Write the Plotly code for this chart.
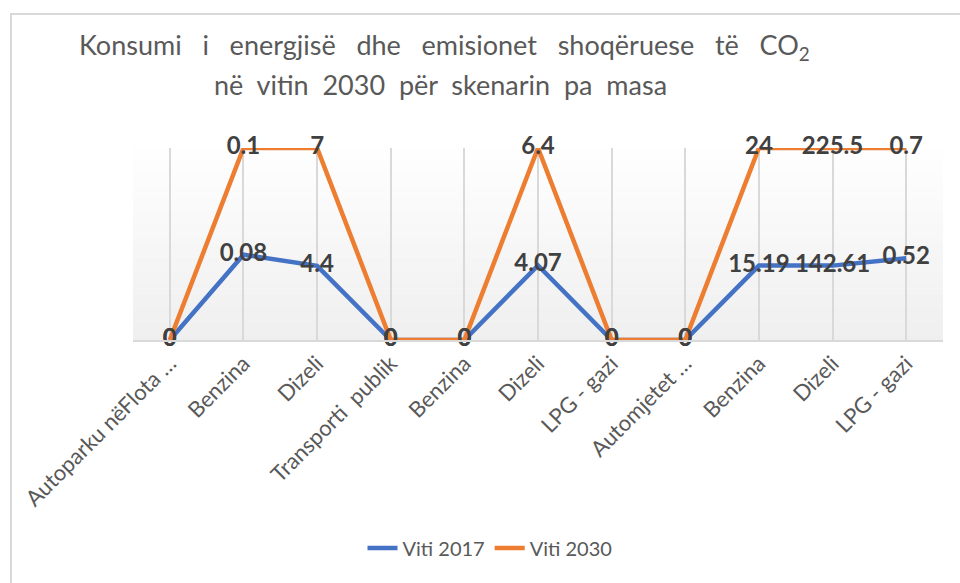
import numpy as np
import plotly.graph_objects as go

# ---- data ----
categories = ["Autoparku nëFlota …", "Benzina", "Dizeli", "Transporti  publik", "Benzina",
              "Dizeli", "LPG - gazi", "Automjetet …", "Benzina", "Dizeli", "LPG - gazi"]
viti_2017 = [0, 0.08, 4.4, 0, 0, 4.07, 0, 0, 15.19, 142.61, 0.52]
viti_2030 = [0, 0.1, 7, 0, 0, 6.4, 0, 0, 24, 225.5, 0.7]
series_names = ["Viti 2017", "Viti 2030"]

# 100% stacked line: cumulative share of each category total
a = np.array(viti_2017, dtype=float)
b = np.array(viti_2030, dtype=float)
tot = a + b
safe = np.where(tot > 0, tot, 1.0)
y17 = np.where(tot > 0, a / safe, 0.0)
y30 = np.where(tot > 0, (a + b) / safe, 0.0)
x = list(range(len(categories)))

BLUE = "#4472C4"
ORANGE = "#ED7D31"
LABEL = "#404040"
GRAY = "#595959"
FONT = "Lato"

def fmt(v):
    return ("%g" % v)

fig = go.Figure()
fig.add_trace(go.Scatter(x=x, y=y17, mode="lines", name=series_names[0],
                         line=dict(color=BLUE, width=4.5), cliponaxis=False))
fig.add_trace(go.Scatter(x=x, y=y30, mode="lines", name=series_names[1],
                         line=dict(color=ORANGE, width=4.5), cliponaxis=False))
fig.add_trace(go.Scatter(x=x, y=y17, mode="text", text=[fmt(v) for v in viti_2017],
                         textposition="middle center", showlegend=False, cliponaxis=False,
                         textfont=dict(family=FONT, size=24, color=LABEL, weight="bold"),
                         hoverinfo="skip"))
fig.add_trace(go.Scatter(x=x, y=y30, mode="text", text=[fmt(v) for v in viti_2030],
                         textposition="middle center", showlegend=False, cliponaxis=False,
                         textfont=dict(family=FONT, size=24, color=LABEL, weight="bold"),
                         hoverinfo="skip"))

# plot area in page pixels: x 133..943, y 148..340
PL, PB, PW, PH = 133, 340, 810, 192
PT = PB - PH

# gradient background in plot area
shapes = []
n = 30
for i in range(n):
    t = i / n
    g = int(round(239 + (255 - 239) * t))
    shapes.append(dict(type="rect", xref="x domain", yref="y domain",
                       x0=0, x1=1, y0=i / n, y1=(i + 1) / n + 0.002,
                       fillcolor="rgb(%d,%d,%d)" % (g, g, g), line=dict(width=0),
                       layer="below"))
# outer chart frame (top and left edges visible)
shapes.append(dict(type="line", xref="paper", yref="paper",
                   x0=(10 - PL) / PW, x1=(990 - PL) / PW,
                   y0=(PB - 14) / PH, y1=(PB - 14) / PH,
                   line=dict(color="#D9D9D9", width=2), layer="below"))
shapes.append(dict(type="line", xref="paper", yref="paper",
                   x0=(11 - PL) / PW, x1=(11 - PL) / PW,
                   y0=(PB - 13) / PH, y1=(PB - 640) / PH,
                   line=dict(color="#D9D9D9", width=2), layer="below"))

annotations = [
    dict(text="Konsumi   i   energjisë   dhe   emisionet   shoqëruese   të   CO<sub>2</sub>",
         xref="paper", yref="paper", x=(444 - PL) / PW, y=(PB - 47) / PH,
         xanchor="center", yanchor="middle", showarrow=False,
         font=dict(family=FONT, size=27, color=GRAY)),
    dict(text="në  vitin  2030  për  skenarin  pa  masa",
         xref="paper", yref="paper", x=(440 - PL) / PW, y=(PB - 84) / PH,
         xanchor="center", yanchor="middle", showarrow=False,
         font=dict(family=FONT, size=27, color=GRAY)),
]

W, H = 960, 583
fig.update_layout(
    width=W, height=H,
    margin=dict(l=PL, r=W - PL - PW, t=PT, b=H - PB, autoexpand=False),
    paper_bgcolor="white", plot_bgcolor="white",
    showlegend=True,
    legend=dict(orientation="h", x=(490 - PL) / PW, xanchor="center",
                y=(PB - 548) / PH, yanchor="middle",
                font=dict(family=FONT, size=20, color=GRAY), bgcolor="rgba(0,0,0,0)"),
    shapes=shapes, annotations=annotations,
    xaxis=dict(range=[-0.5, len(categories) - 0.5], tickmode="array", tickvals=x,
               ticktext=categories, tickangle=-45, showgrid=True, gridcolor="#D9D9D9",
               gridwidth=1.5, showline=True, linecolor="#D9D9D9", linewidth=2,
               zeroline=False, ticks="", automargin=False,
               tickfont=dict(family=FONT, size=22, color=GRAY)),
    yaxis=dict(range=[0, 1], visible=False, showgrid=False, zeroline=False, automargin=False),
)

fig.write_html("out.html", config={"displayModeBar": False},
               post_script="document.body.style.margin='0px';document.body.style.overflow='hidden';")
